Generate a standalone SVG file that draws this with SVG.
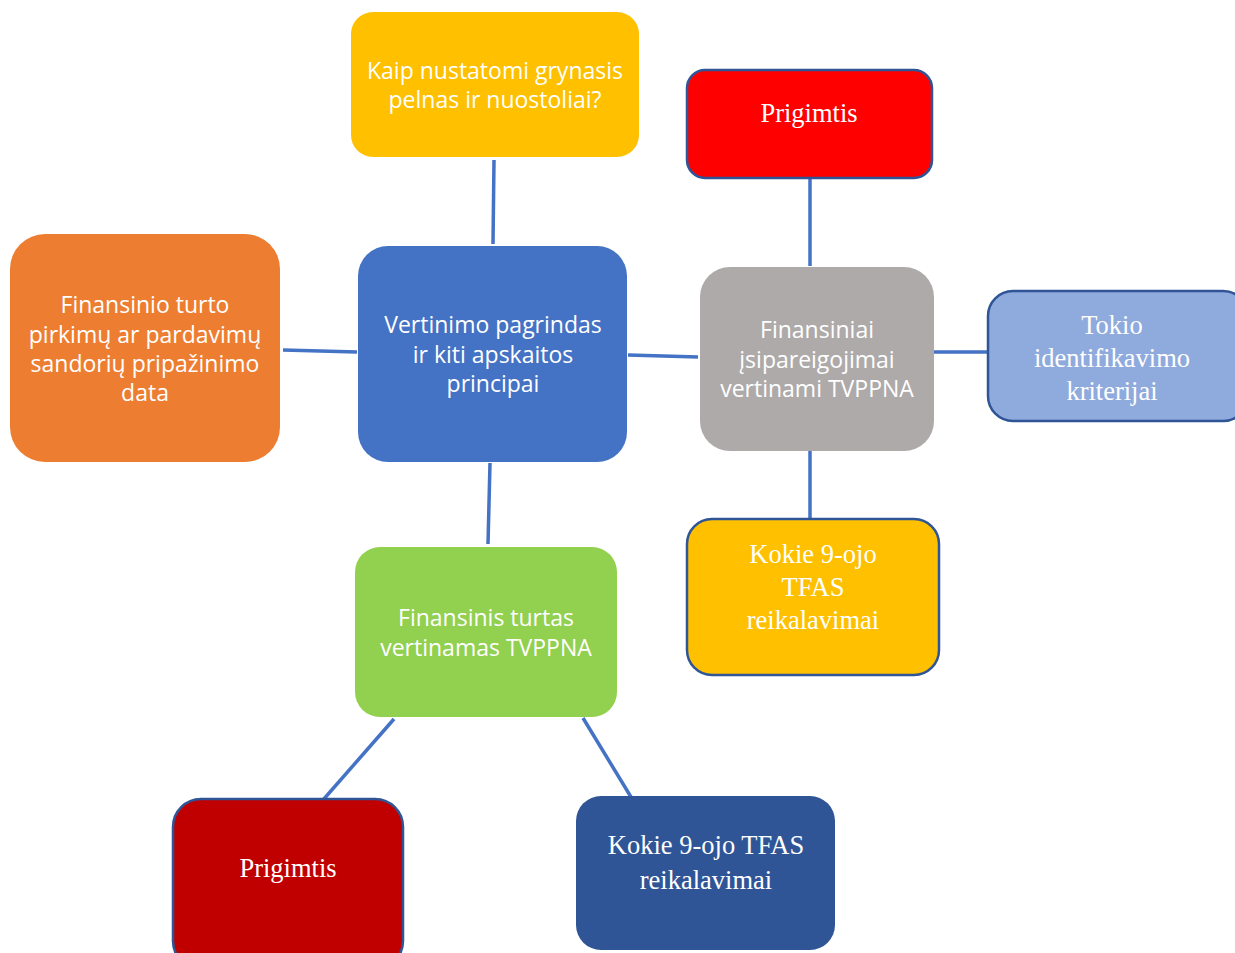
<svg xmlns="http://www.w3.org/2000/svg" width="1235" height="953" viewBox="0 0 1235 953">
<style>
.s{font-family:"Open Sans","Liberation Sans",sans-serif;font-size:23px;fill:#fff;text-anchor:middle;dominant-baseline:central}
.r{font-family:"Liberation Serif","Times New Roman",serif;font-size:26.5px;fill:#fff;text-anchor:middle;dominant-baseline:central}
.c line{stroke:#4472C4;stroke-width:3.5}
.b{stroke:#2F5597;stroke-width:2.5}
</style>
<rect width="1235" height="953" fill="#fff"/>
<g class="c" id="connectors">
<line x1="494" y1="160" x2="493" y2="244"/>
<line x1="283" y1="350" x2="357" y2="352"/>
<line x1="628" y1="355" x2="698" y2="357"/>
<line x1="810" y1="178" x2="810" y2="266"/>
<line x1="934" y1="352" x2="989" y2="352"/>
<line x1="810" y1="451" x2="810" y2="519"/>
<line x1="490" y1="463" x2="488" y2="544"/>
<line x1="394" y1="719" x2="323" y2="800"/>
<line x1="583" y1="718" x2="631" y2="797"/>
</g>
<g id="n-top">
<rect x="351" y="12" width="288" height="145" rx="22" fill="#FFC000"/>
<text class="s" x="495" y="70">Kaip nustatomi grynasis</text>
<text class="s" x="495" y="99">pelnas ir nuostoliai?</text>
</g>
<g id="n-prigimtis1">
<rect x="687" y="70" width="245" height="108" rx="18" fill="#FF0000" class="b"/>
<text class="r" x="809" y="113">Prigimtis</text>
</g>
<g id="n-orange">
<rect x="10" y="234" width="270" height="228" rx="35" fill="#ED7D31"/>
<text class="s" x="145" y="304">Finansinio turto</text>
<text class="s" x="145" y="334">pirkimų ar pardavimų</text>
<text class="s" x="145" y="363">sandorių pripažinimo</text>
<text class="s" x="145" y="392">data</text>
</g>
<g id="n-center">
<rect x="358" y="246" width="269" height="216" rx="30" fill="#4472C4"/>
<text class="s" x="493" y="324">Vertinimo pagrindas</text>
<text class="s" x="493" y="354">ir kiti apskaitos</text>
<text class="s" x="493" y="383">principai</text>
</g>
<g id="n-gray">
<rect x="700" y="267" width="234" height="184" rx="30" fill="#AEAAAA"/>
<text class="s" x="817" y="329">Finansiniai</text>
<text class="s" x="817" y="359">įsipareigojimai</text>
<text class="s" x="817" y="388">vertinami TVPPNA</text>
</g>
<g id="n-tokio">
<rect x="988" y="291" width="260" height="130" rx="25" fill="#8FAADC" class="b"/>
<text class="r" x="1112" y="325">Tokio</text>
<text class="r" x="1112" y="358">identifikavimo</text>
<text class="r" x="1112" y="391">kriterijai</text>
</g>
<g id="n-kokie1">
<rect x="687" y="519" width="252" height="156" rx="25" fill="#FFC000" class="b"/>
<text class="r" x="813" y="554">Kokie 9-ojo</text>
<text class="r" x="813" y="587">TFAS</text>
<text class="r" x="813" y="620">reikalavimai</text>
</g>
<g id="n-green">
<rect x="355" y="547" width="262" height="170" rx="25" fill="#92D050"/>
<text class="s" x="486" y="617">Finansinis turtas</text>
<text class="s" x="486" y="647">vertinamas TVPPNA</text>
</g>
<g id="n-prigimtis2">
<rect x="173" y="799" width="230" height="170" rx="28" fill="#C00000" class="b"/>
<text class="r" x="288" y="868">Prigimtis</text>
</g>
<g id="n-kokie2">
<rect x="576" y="796" width="259" height="154" rx="25" fill="#2F5597"/>
<text class="r" x="706" y="845">Kokie 9-ojo TFAS</text>
<text class="r" x="706" y="880">reikalavimai</text>
</g>
</svg>
